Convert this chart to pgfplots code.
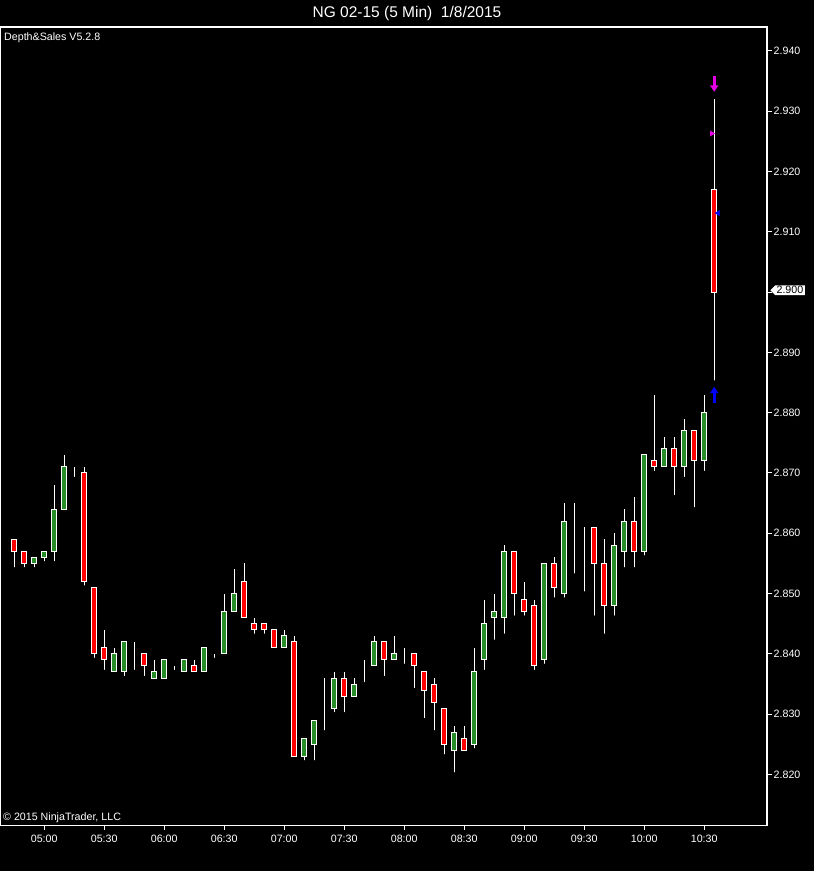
\documentclass[border=0pt]{standalone}
\usepackage{pgfplots}
\pgfplotsset{compat=1.18}
\usepackage{pgfplotstable}
\usepackage{fontspec}
\setmainfont{Liberation Sans}
\usetikzlibrary{shapes.symbols,arrows.meta}

\definecolor{cgreen}{RGB}{40,140,40}
\definecolor{cred}{RGB}{255,0,0}
\definecolor{cmag}{RGB}{230,0,230}
\definecolor{cblue}{RGB}{0,0,255}

\pgfplotstableread{
i o h l c
0 2.859 2.859 2.854 2.857
1 2.857 2.857 2.854 2.855
2 2.855 2.856 2.854 2.856
3 2.856 2.857 2.855 2.857
4 2.857 2.868 2.855 2.864
5 2.864 2.873 2.864 2.871
6 2.870 2.871 2.869 2.870
7 2.870 2.871 2.851 2.852
8 2.851 2.851 2.839 2.840
9 2.841 2.844 2.837 2.839
10 2.837 2.841 2.837 2.840
11 2.837 2.842 2.836 2.842
12 2.841 2.842 2.837 2.841
13 2.840 2.840 2.836 2.838
14 2.836 2.839 2.836 2.837
15 2.836 2.839 2.836 2.839
16 2.837 2.838 2.837 2.837
17 2.837 2.839 2.837 2.839
18 2.838 2.839 2.837 2.837
19 2.837 2.841 2.837 2.841
20 2.840 2.840 2.839 2.840
21 2.840 2.850 2.840 2.847
22 2.847 2.854 2.847 2.850
23 2.852 2.855 2.846 2.846
24 2.845 2.846 2.843 2.844
25 2.845 2.845 2.843 2.844
26 2.844 2.844 2.841 2.841
27 2.841 2.844 2.841 2.843
28 2.842 2.843 2.823 2.823
29 2.823 2.826 2.822 2.826
30 2.825 2.829 2.822 2.829
31 2.830 2.836 2.827 2.830
32 2.831 2.837 2.830 2.836
33 2.836 2.837 2.830 2.833
34 2.833 2.836 2.833 2.835
35 2.837 2.839 2.835 2.837
36 2.838 2.843 2.838 2.842
37 2.842 2.842 2.836 2.839
38 2.839 2.843 2.839 2.840
39 2.839 2.841 2.838 2.839
40 2.840 2.840 2.834 2.838
41 2.837 2.837 2.829 2.834
42 2.835 2.836 2.827 2.832
43 2.831 2.831 2.823 2.825
44 2.824 2.828 2.820 2.827
45 2.826 2.828 2.824 2.824
46 2.825 2.841 2.824 2.837
47 2.839 2.849 2.837 2.845
48 2.846 2.850 2.842 2.847
49 2.846 2.858 2.843 2.857
50 2.857 2.857 2.846 2.850
51 2.849 2.852 2.846 2.847
52 2.848 2.849 2.837 2.838
53 2.839 2.855 2.838 2.855
54 2.855 2.856 2.849 2.851
55 2.850 2.865 2.849 2.862
56 2.862 2.865 2.853 2.862
57 2.861 2.861 2.850 2.861
58 2.861 2.861 2.846 2.855
59 2.855 2.859 2.843 2.848
60 2.848 2.860 2.846 2.858
61 2.857 2.864 2.854 2.862
62 2.862 2.866 2.854 2.857
63 2.857 2.873 2.856 2.873
64 2.872 2.883 2.870 2.871
65 2.871 2.876 2.871 2.874
66 2.874 2.876 2.866 2.871
67 2.871 2.879 2.869 2.877
68 2.877 2.877 2.864 2.872
69 2.872 2.883 2.870 2.880
70 2.917 2.932 2.885 2.900
}\candles

\pgfplotsset{
  ncax/.style={scale only axis, width=766.5pt, height=798.5pt,
    at={(0.5pt,45.5pt)}, anchor=south west,
    xmin=-1.37, xmax=75.28, ymin=2.81154, ymax=2.94396,
    enlargelimits=false},
}

\begin{document}
\begin{tikzpicture}
\useasboundingbox (0,0) rectangle (814pt,871pt);
\fill[black] (0,0) rectangle (814pt,871pt);

% frame, ticks, wicks
\begin{axis}[ncax,
  axis line style={white, line width=1.2pt},
  tick style={white, line width=1pt},
  major tick length=5pt, tick align=outside,
  xtick pos=left, ytick pos=right,
  xticklabel pos=left, yticklabel pos=right,
  xtick={3,9,15,21,27,33,39,45,51,57,63,69},
  xticklabels={05:00,05:30,06:00,06:30,07:00,07:30,08:00,08:30,09:00,09:30,10:00,10:30},
  ytick={2.82,2.83,2.84,2.85,2.86,2.87,2.88,2.89,2.90,2.91,2.92,2.93,2.94},
  yticklabels={2.820,2.830,2.840,2.850,2.860,2.870,2.880,2.890,{},2.910,2.920,2.930,2.940},
  tick label style={font=\fontsize{10.67}{12}\selectfont, text=white},
  xticklabel style={inner sep=4pt},
  yticklabel style={inner sep=1.5pt},
  minor tick num=0,
]
\addplot[only marks, mark=none,
  error bars/.cd, y dir=plus, y explicit, error mark=none,
  error bar style={draw=white, line width=1pt}]
  table[x=i, y=l, y error expr={\thisrow{h}-\thisrow{l}}] {\candles};
\end{axis}

% bodies
\begin{axis}[ncax, hide axis, ybar stacked, bar width=5.5pt]
\addplot[draw=none, fill=none] table[x=i, y expr={min(\thisrow{o},\thisrow{c})}] {\candles};
\addplot[draw=white, fill=cgreen, line width=1pt] table[x=i, y expr={max(\thisrow{c}-\thisrow{o},0)}] {\candles};
\addplot[draw=white, fill=cred, line width=1pt] table[x=i, y expr={max(\thisrow{o}-\thisrow{c},0)}] {\candles};
\end{axis}

% markers and price label
\begin{axis}[ncax, hide axis, clip=false]
\addplot[cmag, line width=3.3pt, -{Triangle[width=8pt,length=6.5pt]}] coordinates {(70,2.9359) (70,2.9332)};
\addplot[cblue, line width=3.3pt, -{Triangle[width=8pt,length=6.5pt]}] coordinates {(70,2.8816) (70,2.8843)};
\addplot[only marks, mark=triangle*, mark size=3pt, mark options={rotate=-90, fill=cmag, draw=cmag}] coordinates {(69.75,2.9263)};
\addplot[only marks, mark=triangle*, mark size=3pt, mark options={rotate=90, fill=cblue, draw=cblue}] coordinates {(70.38,2.9131)};
\node[signal, signal to=west, fill=white, text=black, inner xsep=1.5pt, inner ysep=1pt,
  font=\fontsize{10.67}{12}\selectfont, anchor=west] at (axis cs:75.58,2.9003) {2.900};
\end{axis}

\node[text=white, font=\fontsize{15.5}{18}\selectfont] at (407pt,858pt) {NG 02-15 (5 Min)~~1/8/2015};
\node[text=white, anchor=west, inner sep=0pt, font=\fontsize{10.67}{12}\selectfont] at (4pt,833pt) {Depth\&Sales V5.2.8};
\node[text=white, anchor=west, inner sep=0pt, font=\fontsize{10.67}{12}\selectfont] at (3pt,53pt) {© 2015 NinjaTrader, LLC};
\end{tikzpicture}
\end{document}
